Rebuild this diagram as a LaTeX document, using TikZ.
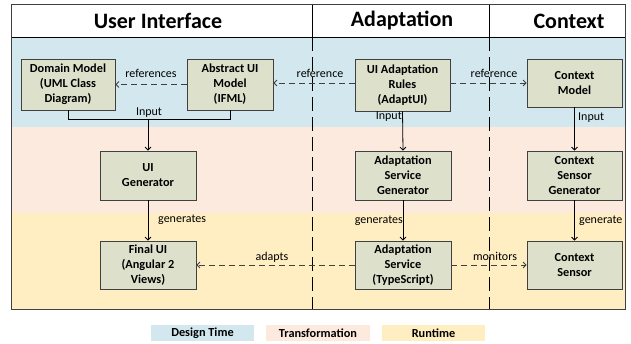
\documentclass[tikz,border=0pt]{standalone}
\usepackage{fontspec}
\setmainfont{Carlito}
\usetikzlibrary{arrows.meta}
\definecolor{bandblue}{HTML}{D3E8EE}
\definecolor{bandpeach}{HTML}{FDEADF}
\definecolor{bandyellow}{HTML}{FFEEC2}
\definecolor{nodefill}{HTML}{DDE0CB}
\definecolor{linegray}{HTML}{404040}
\tikzset{
  box/.style={draw=linegray, fill=nodefill, line width=0.8pt, align=center, inner sep=0pt,
    font=\bfseries\fontsize{12.3}{15}\selectfont},
  lbl/.style={font=\fontsize{12}{13}\selectfont, inner sep=1pt},
  hdr/.style={font=\bfseries\fontsize{22}{24}\selectfont},
  leg/.style={font=\bfseries\fontsize{12.3}{14}\selectfont, inner sep=0pt},
  arr/.style={line width=0.8pt, -{Straight Barb[length=3pt,width=6pt]}},
  darr/.style={arr, draw=linegray, dash pattern=on 6pt off 4pt},
  colsep/.style={line width=0.8pt, dash pattern=on 14pt off 6pt}
}
\begin{document}
\begin{tikzpicture}[x=1pt,y=-1pt]
\useasboundingbox (0,0) rectangle (631,344);
% bands
\fill[white] (11,4) rectangle (625,37);
\fill[bandblue] (11,37) rectangle (625,127);
\fill[bandpeach] (11,127) rectangle (625,213);
\fill[bandyellow] (11,213) rectangle (625,309);
% header
\draw[line width=0.8pt] (11,37) -- (625,37);
\draw[line width=0.8pt] (312,4) -- (312,37);
\draw[line width=0.8pt] (489,4) -- (489,37);
\draw[colsep] (312,37) -- (312,309);
\draw[colsep] (489,37) -- (489,309);
\draw[draw=linegray, line width=0.9pt] (11,4) rectangle (625,309);
\node[hdr] (h1) at (158,21) {User Interface};
\node[hdr] (h2) at (402,21) {Adaptation};
\node[hdr] (h3) at (569,21) {Context};
% nodes
\node[box, minimum width=94pt, minimum height=51pt] (dm) at (68,84.5) {Domain Model\\(UML Class\\Diagram)};
\node[box, minimum width=86pt, minimum height=51pt] (aui) at (230,84.5) {Abstract UI\\Model\\(IFML)};
\node[box, minimum width=95pt, minimum height=52pt] (rules) at (402.5,85) {UI Adaptation\\Rules\\(AdaptUI)};
\node[box, minimum width=95pt, minimum height=48pt] (cm) at (574.5,83) {Context\\Model};
\node[box, minimum width=96pt, minimum height=49pt] (uig) at (148,175.5) {UI\\Generator};
\node[box, minimum width=96pt, minimum height=49pt] (asg) at (403,175.5) {Adaptation\\Service\\Generator};
\node[box, minimum width=95pt, minimum height=49pt] (csg) at (574.5,175.5) {Context\\Sensor\\Generator};
\node[box, minimum width=96pt, minimum height=48pt] (fui) at (148,265) {Final UI\\(Angular 2\\Views)};
\node[box, minimum width=96pt, minimum height=48pt] (as) at (403,265) {Adaptation\\Service\\(TypeScript)};
\node[box, minimum width=95pt, minimum height=48pt] (cs) at (574.5,265) {Context\\Sensor};
% connectors
\coordinate (j) at (148,119);
\draw[line width=0.8pt] (dm.south) |- (aui.south |- j) -- (aui.south);
\draw[arr] (j) -- (uig.north);
\node[lbl] (l1) at (149,113) {Input};
\draw[darr] (aui.west) -- (dm.east);
\node[lbl] (l2) at (151,73) {references};
\draw[darr] (rules.west |- 0,83) -- (aui.east |- 0,83);
\node[lbl] (l3) at (320,73) {reference};
\draw[darr] (rules.east |- 0,83) -- (cm.west |- 0,83);
\node[lbl] (l4) at (494,73) {reference};
\draw[arr] (rules.south) -- (asg.north);
\node[lbl, anchor=east] (l5) at (403,117) {Input};
\draw[arr] (cm.south) -- (csg.north);
\node[lbl, anchor=west] (l6) at (577,118) {Input};
\draw[arr] (uig.south) -- (fui.north);
\node[lbl, anchor=west] (l7) at (157,220) {generates};
\draw[arr] (asg.south) -- (as.north);
\node[lbl, anchor=east] (l8) at (404,221) {generates};
\draw[arr] (csg.south) -- (cs.north);
\node[lbl, anchor=west] (l9) at (578,221) {generate};
\draw[darr] (as.west) -- (fui.east);
\node[lbl] (l10) at (272,257) {adapts};
\draw[darr] (as.east) -- (cs.west);
\node[lbl] (l11) at (495,256) {monitors};
% legend
\node[leg, fill=bandblue, minimum width=103pt, minimum height=16pt] (g1) at (202.5,333) {Design Time};
\node[leg, fill=bandpeach, minimum width=104pt, minimum height=16pt] (g2) at (318,333) {Transformation};
\node[leg, fill=bandyellow, minimum width=103pt, minimum height=16pt] (g3) at (433.5,333) {Runtime};
\end{tikzpicture}
\end{document}
